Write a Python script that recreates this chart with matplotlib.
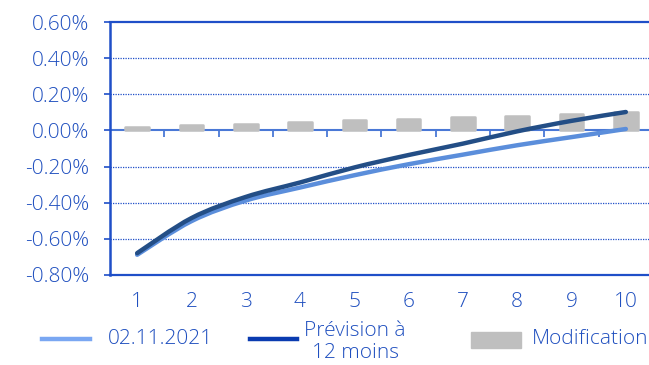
import numpy as np
import matplotlib
matplotlib.use("Agg")
import matplotlib.pyplot as plt
from matplotlib.path import Path
from matplotlib.patches import PathPatch, Rectangle
from matplotlib.lines import Line2D

# ---- data ----
categories = [1, 2, 3, 4, 5, 6, 7, 8, 9, 10]
series_current = [-0.688, -0.502, -0.388, -0.316, -0.248, -0.187, -0.134, -0.082, -0.037, 0.008]
series_forecast = [-0.679, -0.485, -0.368, -0.288, -0.205, -0.136, -0.073, -0.005, 0.053, 0.102]
modification = [0.017, 0.028, 0.035, 0.044, 0.055, 0.063, 0.074, 0.081, 0.091, 0.102]
yticks = [0.6, 0.4, 0.2, 0.0, -0.2, -0.4, -0.6, -0.8]
label_current = "02.11.2021"
label_forecast = "Prévision à\n12 moins"
label_mod = "Modification"

TXT = "#1f4fbf"
AX = "#1f4fc8"
C_LIGHT = "#5b8edb"
C_DARK = "#234e86"
C_LEG_LIGHT = "#7aa7f2"
C_LEG_DARK = "#0a3bb0"
GRAY = "#bfbfbf"

plt.rcParams['font.family'] = ['Open Sans', 'DejaVu Sans']
plt.rcParams['font.weight'] = 'light'
FS = 15

W, H = 649, 365
fig = plt.figure(figsize=(W / 100, H / 100), dpi=100)
ax = fig.add_axes([110 / W, 1 - 275 / H, 539 / W, 253 / H])

x = np.array(categories, dtype=float)
ax.set_xlim(0.5, 0.5 + 539 / 54.3)
ax.set_ylim(-0.8, 0.6)

# grid lines
for v in yticks:
    if v in (0.6, -0.8, 0.0):
        continue
    ax.axhline(v, color=AX, lw=0.9, ls=(0, (1, 1)), zorder=1)
# zero line with downward category ticks
ax.axhline(0, color="#4a78d6", lw=1.5, zorder=1)
bounds = np.arange(0.5, len(categories) + 1, 1.0)
ax.plot(bounds[1:], np.zeros(len(bounds) - 1), ls='none', marker=3, markersize=5,
        markeredgewidth=1.3, color="#4a78d6", zorder=1, clip_on=False)

# bars
ax.bar(x, modification, width=0.436, color=GRAY, edgecolor=GRAY, linewidth=1.8,
       joinstyle='round', zorder=2)


def smooth_path(xs, ys):
    pts = np.column_stack([xs, ys])
    P = np.vstack([pts[0], pts, pts[-1]])
    verts = [pts[0]]
    codes = [Path.MOVETO]
    for i in range(1, len(P) - 2):
        p0, p1, p2, p3 = P[i - 1], P[i], P[i + 1], P[i + 2]
        c1 = p1 + (p2 - p0) / 6.0
        c2 = p2 - (p3 - p1) / 6.0
        verts += [c1, c2, p2]
        codes += [Path.CURVE4] * 3
    return Path(np.array(verts), codes)


for ys, col, z in [(series_current, C_LIGHT, 3), (series_forecast, C_DARK, 4)]:
    patch = PathPatch(smooth_path(x, ys), fill=False, edgecolor=col, lw=3.2,
                      capstyle='round', joinstyle='round', zorder=z)
    ax.add_patch(patch)

# spines
ax.spines['right'].set_visible(False)
ax.spines['top'].set_color(AX)
ax.spines['top'].set_linewidth(1.6)
ax.spines['bottom'].set_color(AX)
ax.spines['bottom'].set_linewidth(1.6)
ax.spines['left'].set_color(AX)
ax.spines['left'].set_linewidth(1.8)

ax.set_yticks(yticks)
ax.set_yticklabels([f"{v:.2f}%" for v in yticks])
ax.tick_params(axis='y', direction='out', length=4.5, width=1.2, color=AX,
               labelcolor=TXT, labelsize=FS, pad=10.5)
ax.set_xticks(x)
ax.set_xticklabels([str(c) for c in categories])
ax.tick_params(axis='x', length=0, labelcolor=TXT, labelsize=FS, pad=12.5)

# legend (manual layout)
ly = 1 - 339 / H
fig.add_artist(Line2D([42 / W, 90 / W], [ly, ly], color=C_LEG_LIGHT, lw=3.2,
                      transform=fig.transFigure))
fig.text(108 / W, ly, label_current, color=TXT, fontsize=FS, va='center', ha='left')
fig.add_artist(Line2D([250 / W, 297 / W], [ly, ly], color=C_LEG_DARK, lw=3.2,
                      transform=fig.transFigure))
fig.text(355 / W, 1 - 342 / H, label_forecast, color=TXT, fontsize=FS, va='center',
         ha='center', multialignment='center', linespacing=1.15)
fig.add_artist(Rectangle((470.7 / W, 1 - 347.7 / H), 50 / W, 16 / H, color=GRAY,
                         transform=fig.transFigure))
fig.text(532 / W, ly, label_mod, color=TXT, fontsize=FS, va='center', ha='left')

fig.savefig("out.png", dpi=100)
